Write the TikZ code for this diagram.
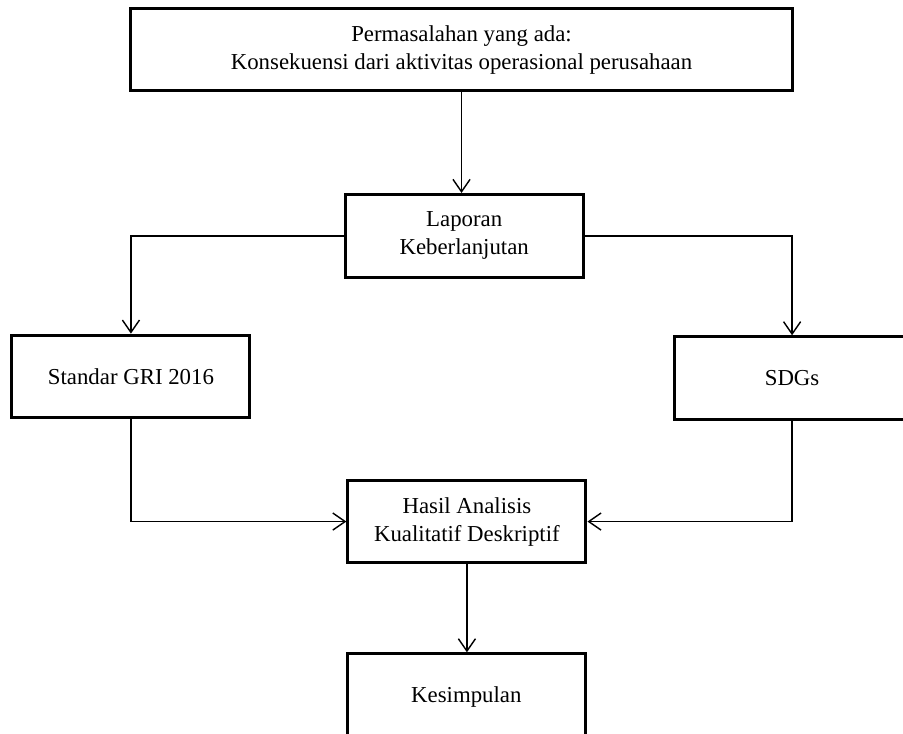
\documentclass[tikz,border=0pt]{standalone}
\usepackage{fontspec}
\setmainfont{Liberation Serif}
\usetikzlibrary{arrows.meta}

\begin{document}
\begin{tikzpicture}[
  font=\fontsize{12pt}{14.7pt}\selectfont,
  flowbox/.style={draw,line width=1.6pt,fill=white,align=center,
    minimum width=4.4cm,minimum height=1.53cm,inner sep=2pt},
  flowarrow/.style={-{Straight Barb[length=6.5pt,width=9pt]},line width=.75pt}]
\path[use as bounding box] (0,0) rectangle (16.69,13.55);
\clip (0,0) rectangle (16.69,13.55);
\node[flowbox,minimum width=12.22cm,minimum height=1.52cm] (problem) at (8.53,12.63)
      {Permasalahan yang ada:\\Konsekuensi dari aktivitas operasional perusahaan};
\node[flowbox] (report) at (8.58,9.19) {Laporan\\Keberlanjutan};
\node[flowbox] (gri) at (2.42,6.59) {Standar GRI 2016};
\node[flowbox,minimum width=4.33cm] (sdgs) at (14.64,6.56) {SDGs};
\node[flowbox] (result) at (8.63,3.91) {Hasil Analisis\\Kualitatif Deskriptif};
\node[flowbox,minimum height=1.59cm] (conclusion) at (8.62,0.67) {Kesimpulan};
\draw[flowarrow] (problem.south) -- (problem.south |- report.north);
\draw[flowarrow] (report.west) -| (gri.north);
\draw[flowarrow] (report.east) -| (sdgs.north);
\draw[flowarrow] (gri.south) |- (result.west);
\draw[flowarrow] (sdgs.south) |- (result.east);
\draw[flowarrow] (result.south) -- (result.south |- conclusion.north);
\end{tikzpicture}
\end{document}
